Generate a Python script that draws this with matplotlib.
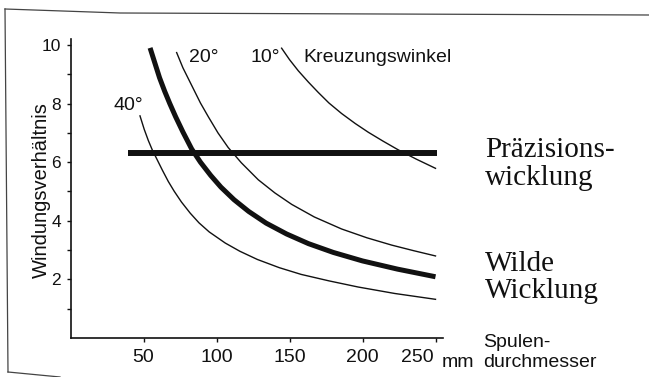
import matplotlib
matplotlib.use("Agg")
import matplotlib.pyplot as plt
from matplotlib.lines import Line2D
from matplotlib.transforms import ScaledTranslation

# ---- data ----
x_40 = [47.6, 50.5, 53.3, 56, 59, 63, 67, 71, 76, 82, 88, 95, 106, 116, 128, 143, 158, 177, 197, 222, 250]
y_40 = [7.58, 7.12, 6.74, 6.42, 6.12, 5.72, 5.34, 5.01, 4.64, 4.26, 3.93, 3.62, 3.24, 2.96, 2.68, 2.40, 2.17, 1.95, 1.74, 1.52, 1.32]

x_wild = [54.5, 58, 61, 64.5, 68, 72, 77, 83, 89, 96, 103, 112, 122, 134, 148, 163, 180, 200, 224, 250]
y_wild = [9.9, 9.35, 8.88, 8.42, 8.0, 7.55, 7.03, 6.45, 6.0, 5.55, 5.15, 4.72, 4.32, 3.92, 3.55, 3.22, 2.92, 2.63, 2.35, 2.09]

x_20 = [72.7, 77, 83, 89, 94.4, 101, 108, 117, 128.6, 140, 151.5, 167, 185.7, 203, 220, 235, 250]
y_20 = [9.74, 9.22, 8.62, 8.02, 7.55, 7.00, 6.50, 5.98, 5.40, 4.95, 4.56, 4.13, 3.72, 3.42, 3.17, 2.98, 2.80]

x_10 = [144.6, 150, 156, 163, 169.7, 177, 185.7, 195, 204, 214, 224.5, 237, 250]
y_10 = [9.89, 9.50, 9.12, 8.73, 8.38, 8.02, 7.66, 7.32, 7.02, 6.72, 6.42, 6.10, 5.79]

x_prec = [39.6, 250.8]
y_prec = [6.3, 6.3]

x_ticks = [50, 100, 150, 200, 250]
y_ticks = [2, 4, 6, 8, 10]
y_minor = [1, 3, 5, 7, 9]

W, H = 649, 377
fig = plt.figure(figsize=(W / 100, H / 100), dpi=100)
fig.patch.set_facecolor("white")

def fx(px):
    return px / W

def fy(py):
    return 1 - py / H

ax = fig.add_axes([fx(70.5), fy(338), 372.3 / W, 298.9 / H])
ax.set_xlim(0, 255)
ax.set_ylim(0, 10.2)
ink = "#111111"

thin = 1.0
ax.plot(x_40, y_40, color=ink, lw=thin, solid_joinstyle="round", clip_on=False)
ax.plot(x_20, y_20, color=ink, lw=thin, solid_joinstyle="round", clip_on=False)
ax.plot(x_10, y_10, color=ink, lw=thin, solid_joinstyle="round", clip_on=False)
ax.plot(x_wild, y_wild, color=ink, lw=3.6, solid_joinstyle="round",
        solid_capstyle="butt", clip_on=False)
ax.plot(x_prec, y_prec, color=ink, lw=4.3, solid_capstyle="butt", clip_on=False)

for s in ["top", "right"]:
    ax.spines[s].set_visible(False)
for s in ["left", "bottom"]:
    ax.spines[s].set_linewidth(1.2)
    ax.spines[s].set_color(ink)

ax.set_xticks(x_ticks)
ax.set_xticklabels([str(v) for v in x_ticks])
ax.set_yticks(y_ticks)
ax.set_yticklabels([str(v) for v in y_ticks])
ax.set_yticks(y_minor, minor=True)
ax.tick_params(axis="x", length=3, width=1, pad=5, labelsize=14, colors=ink)
ax.tick_params(axis="y", which="both", length=3, width=1, pad=4, labelsize=12.5, colors=ink)
for lab in ax.get_xticklabels() + ax.get_yticklabels():
    lab.set_family("Liberation Sans")
# the last x label sits left of its tick to leave room for "mm"
last = ax.get_xticklabels()[-1]
last.set_horizontalalignment("right")
last.set_transform(last.get_transform() + ScaledTranslation(-2 / 100, 0, fig.dpi_scale_trans))

sans = dict(family="Liberation Sans", color=ink, fontsize=14, va="baseline")
serif = dict(family="Liberation Serif", color=ink, fontsize=21, va="baseline")

fig.text(fx(41), fy(190), "Windungsverhältnis", rotation=90, ha="center",
         va="center", family="Liberation Sans", color=ink, fontsize=14.5)

fig.text(fx(113), fy(110), "40°", **sans)
fig.text(fx(189), fy(62), "20°", **sans)
fig.text(fx(251), fy(62), "10°", **sans)
fig.text(fx(303), fy(62), "Kreuzungswinkel", **sans)

fig.text(fx(442), fy(367), "mm", **sans)
fig.text(fx(483), fy(347), "Spulen-", **sans)
fig.text(fx(483), fy(367), "durchmesser", **sans)

fig.text(fx(485), fy(157), "Präzisions-", **serif)
fig.text(fx(485), fy(185), "wicklung", **serif)
fig.text(fx(485), fy(271), "Wilde", **serif)
fig.text(fx(485), fy(298), "Wicklung", **serif)

# scanned page frame
frame = "#444444"
fig.add_artist(Line2D([fx(5), fx(120), fx(649)], [fy(9), fy(13), fy(15)],
                      transform=fig.transFigure, color=frame, lw=0.9))
fig.add_artist(Line2D([fx(5), fx(8)], [fy(9), fy(372)],
                      transform=fig.transFigure, color=frame, lw=0.9))
fig.add_artist(Line2D([fx(8), fx(60)], [fy(372), fy(377)],
                      transform=fig.transFigure, color=frame, lw=0.9))

fig.savefig("out.png", dpi=100, facecolor="white")
